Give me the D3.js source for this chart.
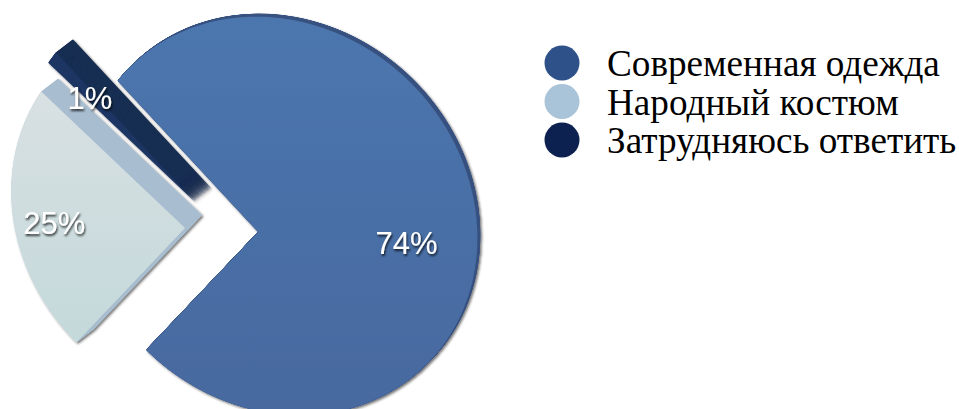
<!DOCTYPE html>
<html>

<head>
    <script type="text/javascript" src="https://cdnjs.cloudflare.com/ajax/libs/d3/7.8.5/d3.min.js"></script>
    <style>
        body {
            margin: 0;
            background: #fff;
        }

        svg text.pct {
            font: 31px "Liberation Sans", Arial, sans-serif;
            fill: #fff;
            text-anchor: middle;
        }

        svg text.leg {
            font: 37.2px "Liberation Serif", "Times New Roman", serif;
            fill: #000;
        }
    </style>
</head>

<body>
    <script>
        var categories = ["Современная одежда", "Народный костюм", "Затрудняюсь ответить"];
        var values = [74, 25, 1];
        var labels = ["74%", "25%", "1%"];

        var width = 959,
            height = 409;

        // pie apex and the tilted ellipse the disc is seen as
        var center = [258, 232];
        var startAngle = 317.1 * Math.PI / 180;
        var ell = { dx: 20, dy: -16, a: 210, b: 188, rot: Math.PI / 4 };

        var explode = [[0, 0], [-73, -4], [-63, -30]];
        var depth = [[3, -3], [17, -13], [17, -13]];
        var scaleR = [1, 0.97, 0.99];
        var labelShift = [[-5, 10], [-12, -8], [-5, -3]];
        var faceColor = ["url(#gBig)", "url(#gPeople)", "#1c3562"];
        var sideColor = ["#3a5480", "#a8bdcf", "#172d51"];
        var legendColor = ["#2e5189", "#a9c4d9", "#0c2150"];

        // distance from apex to the ellipse edge along pie angle a
        function rayRadius(a) {
            var c = Math.cos(ell.rot), s = Math.sin(ell.rot);
            var px = -ell.dx, py = -ell.dy;
            var dx = Math.sin(a), dy = -Math.cos(a);
            var pu = (px * c + py * s) / ell.a, pv = (-px * s + py * c) / ell.b;
            var qu = (dx * c + dy * s) / ell.a, qv = (-dx * s + dy * c) / ell.b;
            var qq = qu * qu + qv * qv, pq = pu * qu + pv * qv, pp = pu * pu + pv * pv;
            return (-pq + Math.sqrt(pq * pq - qq * (pp - 1))) / qq;
        }

        var svg = d3.select('body')
            .append('svg')
            .attr('width', width)
            .attr('height', height);

        var defs = svg.append('defs');
        var g1 = defs.append('linearGradient').attr('id', 'gBig')
            .attr('x1', 0).attr('y1', 0).attr('x2', 0).attr('y2', 1);
        g1.append('stop').attr('offset', 0).attr('stop-color', '#4c76ae');
        g1.append('stop').attr('offset', 1).attr('stop-color', '#47699f');
        var g2 = defs.append('linearGradient').attr('id', 'gPeople')
            .attr('x1', 0).attr('y1', 0).attr('x2', 0).attr('y2', 1);
        g2.append('stop').attr('offset', 0).attr('stop-color', '#d8e0e3');
        g2.append('stop').attr('offset', 1).attr('stop-color', '#c4d9da');

        defs.append('filter').attr('id', 'shadow')
            .attr('x', '-10%').attr('y', '-10%').attr('width', '120%').attr('height', '120%')
            .append('feDropShadow')
            .attr('dx', 1.5).attr('dy', 1.5).attr('stdDeviation', 1)
            .attr('flood-color', '#222').attr('flood-opacity', 0.6);
        defs.append('filter').attr('id', 'tshadow')
            .append('feDropShadow')
            .attr('dx', 1).attr('dy', 2).attr('stdDeviation', 1)
            .attr('flood-color', '#000').attr('flood-opacity', 0.75);

        var pie = d3.pie().sort(null)
            .startAngle(startAngle)
            .endAngle(startAngle + 2 * Math.PI);
        var arcs = pie(values);

        var radial = d3.lineRadial()
            .angle(function(d) { return d[0]; })
            .radius(function(d) { return d[1]; });

        function slicePath(d, i) {
            var n = Math.max(2, Math.ceil((d.endAngle - d.startAngle) / 0.02));
            var pts = [[d.startAngle, 0]];
            d3.range(n + 1).forEach(function(k) {
                var a = d.startAngle + (d.endAngle - d.startAngle) * k / n;
                pts.push([a, rayRadius(a) * scaleR[i]]);
            });
            return radial(pts) + 'Z';
        }

        var slice = svg.selectAll('g.slice')
            .data(arcs)
            .enter()
            .append('g')
            .attr('class', 'slice')
            .attr('filter', 'url(#shadow)')
            .attr('transform', function(d, i) {
                return 'translate(' + (center[0] + explode[i][0]) + ',' + (center[1] + explode[i][1]) + ')';
            });

        // side walls: stacked copies along the depth vector, then the face
        var steps = d3.range(1, 0, -0.025);
        slice.each(function(d, i) {
            var g = d3.select(this),
                p = slicePath(d, i);
            steps.forEach(function(t) {
                g.append('path')
                    .attr('d', p)
                    .attr('transform', 'translate(' + depth[i][0] * t + ',' + depth[i][1] * t + ')')
                    .attr('fill', sideColor[i]);
            });
            g.append('path')
                .attr('d', p)
                .attr('fill', faceColor[i]);
        });

        svg.selectAll('text.pct')
            .data(arcs)
            .enter()
            .append('text')
            .attr('class', 'pct')
            .attr('filter', 'url(#tshadow)')
            .attr('x', function(d, i) {
                var m = (d.startAngle + d.endAngle) / 2;
                return center[0] + explode[i][0] + labelShift[i][0] + Math.sin(m) * rayRadius(m) * scaleR[i] * 0.7;
            })
            .attr('y', function(d, i) {
                var m = (d.startAngle + d.endAngle) / 2;
                return center[1] + explode[i][1] + labelShift[i][1] - Math.cos(m) * rayRadius(m) * scaleR[i] * 0.7;
            })
            .attr('dy', '0.36em')
            .text(function(d, i) { return labels[i]; });

        var legend = svg.selectAll('g.leg')
            .data(categories)
            .enter()
            .append('g')
            .attr('transform', function(d, i) {
                return 'translate(562,' + (63 + i * 38.5) + ')';
            });

        legend.append('circle')
            .attr('r', 17.5)
            .attr('fill', function(d, i) { return legendColor[i]; });

        legend.append('text')
            .attr('class', 'leg')
            .attr('x', 45)
            .attr('y', 13)
            .text(function(d) { return d; });
    </script>
</body>

</html>
